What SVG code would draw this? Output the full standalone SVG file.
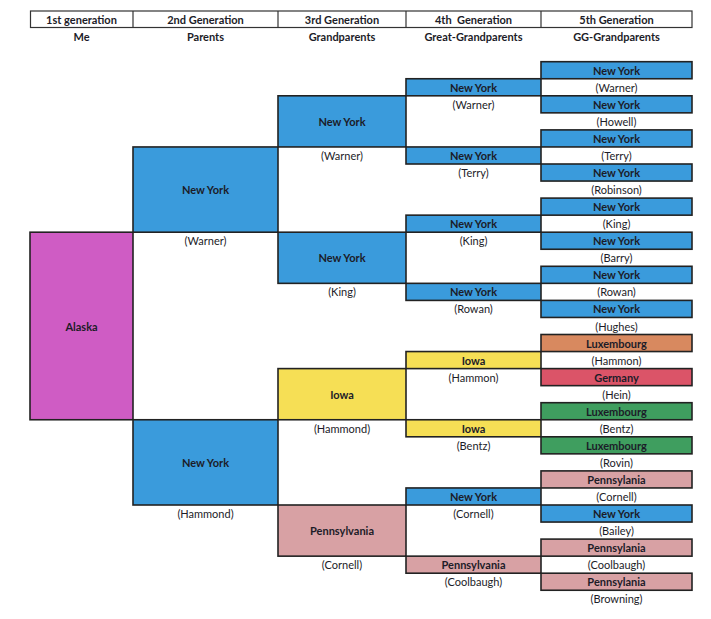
<svg xmlns="http://www.w3.org/2000/svg" width="711" height="619" viewBox="0 0 711 619">
<style>
text{font-family:Lato,"Open Sans","Liberation Sans",sans-serif;font-size:11px;fill:#1c1c28;text-anchor:middle;dominant-baseline:central}
.b{font-weight:bold}
.box{stroke:#222;stroke-width:1.6}
.ny{fill:#3A9BDC}.ak{fill:#CF5CC4}.ia{fill:#F6DF55}.pa{fill:#D8A1A4}.lo{fill:#D8895F}.de{fill:#DB5468}.lg{fill:#3F9E5F}
.hd{fill:#fff;stroke:#333;stroke-width:1.2}
</style>
<rect width="711" height="619" fill="#fff"/>
<g id="header">
<rect class="hd" x="30.5" y="11" width="661.5" height="16.5"/>
<line x1="133" y1="11" x2="133" y2="27.5" stroke="#333" stroke-width="1.2"/>
<line x1="278" y1="11" x2="278" y2="27.5" stroke="#333" stroke-width="1.2"/>
<line x1="406" y1="11" x2="406" y2="27.5" stroke="#333" stroke-width="1.2"/>
<line x1="541" y1="11" x2="541" y2="27.5" stroke="#333" stroke-width="1.2"/>
<text class="b" x="81.5" y="19.5">1st generation</text>
<text class="b" x="205.5" y="19.5">2nd Generation</text>
<text class="b" x="342" y="19.5">3rd Generation</text>
<text class="b" x="473.5" y="19.5" xml:space="preserve">4th  Generation</text>
<text class="b" x="616.5" y="19.5">5th Generation</text>
<text class="b" x="81.5" y="36.5">Me</text>
<text class="b" x="205.5" y="36.5">Parents</text>
<text class="b" x="342" y="36.5">Grandparents</text>
<text class="b" x="473.5" y="36.5">Great-Grandparents</text>
<text class="b" x="616.5" y="36.5">GG-Grandparents</text>
</g>
<g id="connectors"></g>
<g id="g1-alaska"><rect class="box ak" x="30" y="232.2" width="103" height="187.55"/><text class="b" x="81.5" y="326">Alaska</text></g>
<g id="g2-warner"><rect class="box ny" x="133" y="146.95" width="145" height="85.25"/><text class="b" x="205.5" y="189.6">New York</text><text x="205.5" y="240.7">(Warner)</text></g>
<g id="g2-hammond"><rect class="box ny" x="133" y="419.75" width="145" height="85.25"/><text class="b" x="205.5" y="462.4">New York</text><text x="205.5" y="513.5">(Hammond)</text></g>
<g id="g3-warner"><rect class="box ny" x="278" y="95.8" width="128" height="51.15"/><text class="b" x="342" y="121.4">New York</text><text x="342" y="155.5">(Warner)</text></g>
<g id="g3-king"><rect class="box ny" x="278" y="232.2" width="128" height="51.15"/><text class="b" x="342" y="257.8">New York</text><text x="342" y="291.9">(King)</text></g>
<g id="g3-hammond"><rect class="box ia" x="278" y="368.6" width="128" height="51.15"/><text class="b" x="342" y="394.2">Iowa</text><text x="342" y="428.3">(Hammond)</text></g>
<g id="g3-cornell"><rect class="box pa" x="278" y="505" width="128" height="51.15"/><text class="b" x="342" y="530.6">Pennsylvania</text><text x="342" y="564.7">(Cornell)</text></g>
<g id="g4-warner"><rect class="box ny" x="406" y="78.75" width="135" height="17.05"/><text class="b" x="473.5" y="87.3">New York</text><text x="473.5" y="104.3">(Warner)</text></g>
<g id="g4-terry"><rect class="box ny" x="406" y="146.95" width="135" height="17.05"/><text class="b" x="473.5" y="155.5">New York</text><text x="473.5" y="172.5">(Terry)</text></g>
<g id="g4-king"><rect class="box ny" x="406" y="215.15" width="135" height="17.05"/><text class="b" x="473.5" y="223.7">New York</text><text x="473.5" y="240.7">(King)</text></g>
<g id="g4-rowan"><rect class="box ny" x="406" y="283.35" width="135" height="17.05"/><text class="b" x="473.5" y="291.9">New York</text><text x="473.5" y="308.9">(Rowan)</text></g>
<g id="g4-hammon"><rect class="box ia" x="406" y="351.55" width="135" height="17.05"/><text class="b" x="473.5" y="360.1">Iowa</text><text x="473.5" y="377.1">(Hammon)</text></g>
<g id="g4-bentz"><rect class="box ia" x="406" y="419.75" width="135" height="17.05"/><text class="b" x="473.5" y="428.3">Iowa</text><text x="473.5" y="445.3">(Bentz)</text></g>
<g id="g4-cornell"><rect class="box ny" x="406" y="487.95" width="135" height="17.05"/><text class="b" x="473.5" y="496.5">New York</text><text x="473.5" y="513.5">(Cornell)</text></g>
<g id="g4-coolbaugh"><rect class="box pa" x="406" y="556.15" width="135" height="17.05"/><text class="b" x="473.5" y="564.7">Pennsylvania</text><text x="473.5" y="581.7">(Coolbaugh)</text></g>
<g id="g5-warner"><rect class="box ny" x="541" y="61.7" width="151" height="17.05"/><text class="b" x="616.5" y="70.2">New York</text><text x="616.5" y="87.3">(Warner)</text></g>
<g id="g5-howell"><rect class="box ny" x="541" y="95.8" width="151" height="17.05"/><text class="b" x="616.5" y="104.3">New York</text><text x="616.5" y="121.4">(Howell)</text></g>
<g id="g5-terry"><rect class="box ny" x="541" y="129.9" width="151" height="17.05"/><text class="b" x="616.5" y="138.4">New York</text><text x="616.5" y="155.5">(Terry)</text></g>
<g id="g5-robinson"><rect class="box ny" x="541" y="164" width="151" height="17.05"/><text class="b" x="616.5" y="172.5">New York</text><text x="616.5" y="189.6">(Robinson)</text></g>
<g id="g5-king"><rect class="box ny" x="541" y="198.1" width="151" height="17.05"/><text class="b" x="616.5" y="206.6">New York</text><text x="616.5" y="223.7">(King)</text></g>
<g id="g5-barry"><rect class="box ny" x="541" y="232.2" width="151" height="17.05"/><text class="b" x="616.5" y="240.7">New York</text><text x="616.5" y="257.8">(Barry)</text></g>
<g id="g5-rowan"><rect class="box ny" x="541" y="266.3" width="151" height="17.05"/><text class="b" x="616.5" y="274.8">New York</text><text x="616.5" y="291.9">(Rowan)</text></g>
<g id="g5-hughes"><rect class="box ny" x="541" y="300.4" width="151" height="17.05"/><text class="b" x="616.5" y="308.9">New York</text><text x="616.5" y="326">(Hughes)</text></g>
<g id="g5-hammon"><rect class="box lo" x="541" y="334.5" width="151" height="17.05"/><text class="b" x="616.5" y="343">Luxembourg</text><text x="616.5" y="360.1">(Hammon)</text></g>
<g id="g5-hein"><rect class="box de" x="541" y="368.6" width="151" height="17.05"/><text class="b" x="616.5" y="377.1">Germany</text><text x="616.5" y="394.2">(Hein)</text></g>
<g id="g5-bentz"><rect class="box lg" x="541" y="402.7" width="151" height="17.05"/><text class="b" x="616.5" y="411.2">Luxembourg</text><text x="616.5" y="428.3">(Bentz)</text></g>
<g id="g5-rovin"><rect class="box lg" x="541" y="436.8" width="151" height="17.05"/><text class="b" x="616.5" y="445.3">Luxembourg</text><text x="616.5" y="462.4">(Rovin)</text></g>
<g id="g5-cornell"><rect class="box pa" x="541" y="470.9" width="151" height="17.05"/><text class="b" x="616.5" y="479.4">Pennsylania</text><text x="616.5" y="496.5">(Cornell)</text></g>
<g id="g5-bailey"><rect class="box ny" x="541" y="505" width="151" height="17.05"/><text class="b" x="616.5" y="513.5">New York</text><text x="616.5" y="530.6">(Bailey)</text></g>
<g id="g5-coolbaugh"><rect class="box pa" x="541" y="539.1" width="151" height="17.05"/><text class="b" x="616.5" y="547.6">Pennsylania</text><text x="616.5" y="564.7">(Coolbaugh)</text></g>
<g id="g5-browning"><rect class="box pa" x="541" y="573.2" width="151" height="17.05"/><text class="b" x="616.5" y="581.7">Pennsylania</text><text x="616.5" y="598.8">(Browning)</text></g>
</svg>
